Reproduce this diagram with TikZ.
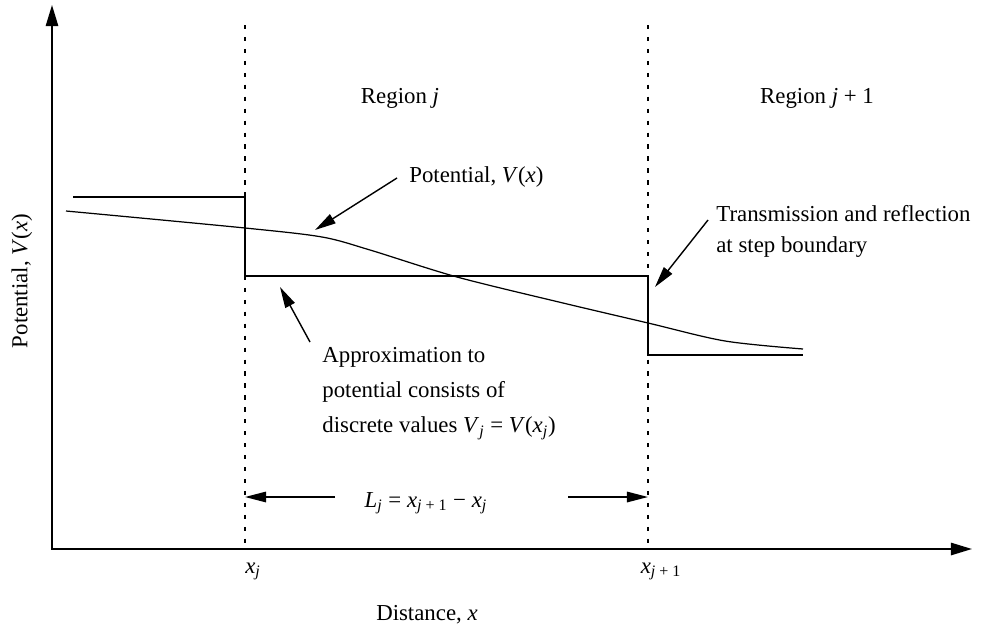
\documentclass[tikz,border=0pt]{standalone}
\usepackage{fontspec}
\setmainfont{Liberation Serif}
\usetikzlibrary{arrows.meta, positioning, calc}

\tikzset{
  axis/.style={line width=1.1pt, {Triangle[length=12pt,width=7pt]}-{Triangle[length=12pt,width=7pt]}},
  boundary/.style={line width=0.9pt, dash pattern=on 2.4pt off 4.4pt},
  pointer/.style={line width=0.8pt, -{Triangle[length=12pt,width=6pt]}},
  lbl/.style={font=\fontsize{13}{15}\selectfont, inner sep=0pt},
}

\begin{document}
\begin{tikzpicture}[x=0.02cm, y=-0.02cm]
  \useasboundingbox (0,0) rectangle (984,629);

  % Axes
  \coordinate (O) at (52,549);
  \coordinate (ytop) at (52,5);
  \coordinate (xend) at (972,549);
  \draw[axis] (ytop) -- (O) -- (xend);

  % Region boundaries
  \coordinate (xjtop) at (245,25);
  \coordinate (xjbot) at (245,545);
  \coordinate (xjjtop) at (648,25);
  \coordinate (xjjbot) at (648,545);
  \draw[boundary] (xjtop) -- (xjbot);
  \draw[boundary] (xjjtop) -- (xjjbot);

  % Step approximation
  \draw[line width=1pt] (73,197) -- (245,197) -- (245,276) -- (648,276)
    -- (648,355) -- (803,355);

  % Potential V(x)
  \draw[line width=0.7pt] plot[smooth, tension=0.5] coordinates {
    (66,211) (245,228) (322,237) (370,250) (457,277) (563,303)
    (648,323) (725,341) (803,349)};

  % Labels
  \node[lbl, anchor=base] (regj) at (400,103) {Region \textit{j}};
  \node[lbl, anchor=base] (regjj) at (817,103) {Region \textit{j} + 1};
  \node[lbl, anchor=base west] (potlbl) at (409,182) {Potential, \textit{V}(\textit{x})};
  \node[lbl, anchor=north west, align=left, font=\fontsize{13}{17.6}\selectfont]
    (translbl) at (716,205) {Transmission and reflection\\at step boundary};
  \node[lbl, anchor=north west, align=left, font=\fontsize{13}{20}\selectfont]
    (approxlbl) at (322,347) {Approximation to\\potential consists of\\discrete values
    \textit{V}\textsubscript{\textit{j}} = \textit{V}(\textit{x}\textsubscript{\textit{j}})};
  \node[lbl, anchor=base] (lenlbl) at (426,507)
    {\textit{L}\textsubscript{\textit{j}} = \textit{x}\textsubscript{\textit{j} + 1} − \textit{x}\textsubscript{\textit{j}}};
  \node[lbl, anchor=base] (xj) at (253,573) {\textit{x}\textsubscript{\textit{j}}};
  \node[lbl, anchor=base] (xjj) at (661,573) {\textit{x}\textsubscript{\textit{j} + 1}};
  \node[lbl, anchor=base] (xlbl) at (427,620) {Distance, \textit{x}};
  \node[lbl, rotate=90] (ylbl) at (22,281) {Potential, \textit{V}(\textit{x})};

  % Pointers
  \coordinate (potTail) at (397,178);
  \coordinate (potTip) at (315,230);
  \coordinate (apxTail) at (310,342);
  \coordinate (apxTip) at (280,287);
  \coordinate (trTail) at (708,220);
  \coordinate (trTip) at (655,287);
  \coordinate (Lleft) at (335,497);
  \coordinate (Lright) at (568,497);
  \coordinate (xjmid) at (245,497);
  \coordinate (xjjmid) at (648,497);
  \draw[pointer] (potTail) -- (potTip);
  \draw[pointer] (apxTail) -- (apxTip);
  \draw[pointer] (trTail) -- (trTip);
  \draw[pointer] (Lleft) -- (xjmid);
  \draw[pointer] (Lright) -- (xjjmid);
\end{tikzpicture}
\end{document}
